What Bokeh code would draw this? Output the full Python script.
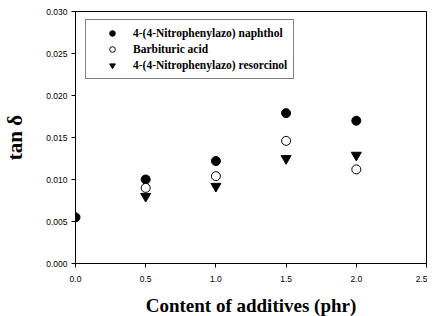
from bokeh.plotting import figure
from bokeh.models import Legend, LegendItem, FixedTicker, NumeralTickFormatter, Range1d
from bokeh.embed import file_html
from bokeh.resources import INLINE

# Data
x_naph = [0.0, 0.5, 1.0, 1.5, 2.0]
y_naph = [0.0055, 0.0100, 0.0122, 0.0179, 0.0170]
x_barb = [0.5, 1.0, 1.5, 2.0]
y_barb = [0.0090, 0.0104, 0.0146, 0.0112]
x_reso = [0.5, 1.0, 1.5, 2.0]
y_reso = [0.0080, 0.0092, 0.0125, 0.0129]
labels = ["4-(4-Nitrophenylazo) naphthol", "Barbituric acid", "4-(4-Nitrophenylazo) resorcinol"]
x_ticks = [0.0, 0.5, 1.0, 1.5, 2.0, 2.5]
y_ticks = [0.000, 0.005, 0.010, 0.015, 0.020, 0.025, 0.030]

p = figure(width=426, height=316, output_backend="svg", toolbar_location=None,
           x_range=Range1d(0, 2.5), y_range=Range1d(0, 0.030),
           frame_width=351, frame_height=252,
           min_border_left=74, min_border_right=1, min_border_top=11, min_border_bottom=53)
p.outline_line_color = "black"
p.outline_line_width = 1
p.xgrid.visible = False
p.ygrid.visible = False

r1 = p.scatter(x_naph, y_naph, marker="circle", size=9, fill_color="black", line_color="black")
r2 = p.scatter(x_barb, y_barb, marker="circle", size=9, fill_color="white", line_color="black", line_width=1)
r3 = p.scatter(x_reso, y_reso, marker="inverted_triangle", size=10, fill_color="black", line_color="black")

for ax in (p.xaxis[0], p.yaxis[0]):
    ax.major_tick_in = 0
    ax.major_tick_out = 4
    ax.minor_tick_in = 0
    ax.minor_tick_out = 0
    ax.axis_line_color = "black"
    ax.major_tick_line_color = "black"
    ax.major_label_text_font = "Liberation Sans"
    ax.major_label_text_font_size = "8.5px"
    ax.major_label_text_color = "black"
    ax.axis_label_text_font = "Liberation Serif"
    ax.axis_label_text_font_style = "bold"
    ax.axis_label_text_color = "black"

p.xaxis.axis_label_text_font_size = "19px"
p.yaxis.axis_label_text_font_size = "21px"
p.xaxis.ticker = FixedTicker(ticks=x_ticks)
p.yaxis.ticker = FixedTicker(ticks=y_ticks)
p.xaxis.formatter = NumeralTickFormatter(format="0.0")
p.yaxis.formatter = NumeralTickFormatter(format="0.000")
p.xaxis.axis_label = "Content of additives (phr)"
p.yaxis.axis_label = "tan δ"
p.xaxis.major_label_standoff = 8
p.yaxis.major_label_standoff = 4
p.xaxis.axis_label_standoff = 10
p.yaxis.axis_label_standoff = 16

legend = Legend(items=[LegendItem(label=labels[0], renderers=[r1]),
                       LegendItem(label=labels[1], renderers=[r2]),
                       LegendItem(label=labels[2], renderers=[r3])],
                location=(10, 184))
legend.margin = 0
legend.border_line_color = "black"
legend.border_line_width = 1
legend.label_text_font = "Liberation Serif"
legend.label_text_font_style = "bold"
legend.label_text_font_size = "11.5px"
legend.label_text_color = "black"
legend.glyph_width = 40
legend.glyph_height = 14
legend.label_height = 14
legend.spacing = 2
legend.padding = 6
legend.label_standoff = 1
legend.background_fill_alpha = 1
p.add_layout(legend)

open("out.html", "w").write(file_html(p, INLINE))
